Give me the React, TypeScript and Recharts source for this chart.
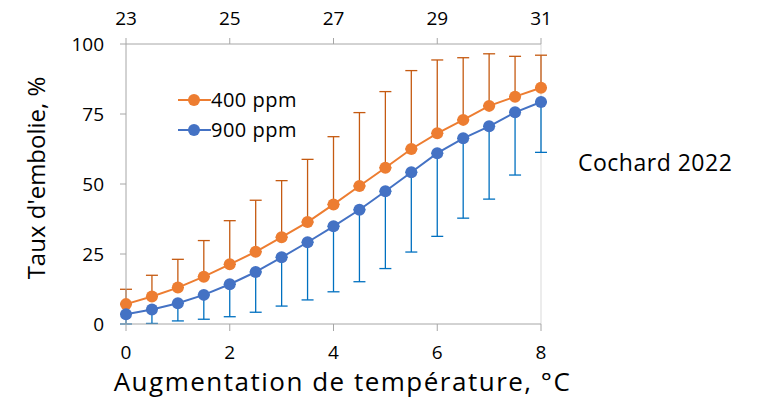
import React from 'react';
import {
  LineChart,
  Line,
  XAxis,
  YAxis,
  ErrorBar,
  ReferenceLine,
} from 'recharts';

const warming = [0, 0.5, 1, 1.5, 2, 2.5, 3, 3.5, 4, 4.5, 5, 5.5, 6, 6.5, 7, 7.5, 8];
const ppm400 = [7.1, 9.8, 13.0, 16.9, 21.3, 25.8, 31.0, 36.4, 42.7, 49.3, 55.8, 62.5, 68.1, 72.9, 77.9, 81.2, 84.4];
const ppm400Up = [5.3, 7.6, 10.1, 12.9, 15.6, 18.4, 20.2, 22.4, 24.2, 26.2, 27.2, 28.0, 26.2, 22.2, 18.6, 14.4, 11.6];
const ppm900 = [3.5, 5.2, 7.4, 10.4, 14.2, 18.6, 23.8, 29.2, 34.9, 40.8, 47.4, 54.2, 61.0, 66.3, 70.6, 75.6, 79.3];
const ppm900Down = [3.5, 5.0, 6.3, 8.7, 11.6, 14.4, 17.4, 20.6, 23.4, 25.7, 27.6, 28.5, 29.7, 28.5, 26.0, 22.4, 18.0];
const bottomTicks = [0, 2, 4, 6, 8];
const topTicks = [23, 25, 27, 29, 31];
const yTicks = [0, 25, 50, 75, 100];

const data = warming.map((x, i) => ({
  x,
  t: x + 23,
  a: ppm400[i],
  aErr: [0, ppm400Up[i]],
  b: ppm900[i],
  bErr: [ppm900Down[i], 0],
}));

const FONT = '"Open Sans", sans-serif';
const axisGray = '#a6a6a6';
const ORANGE = '#ed7d31';
const BLUE = '#4472c4';

const LegendBox = () => (
  <div
    style={{
      position: 'absolute',
      left: 178,
      top: 85,
      fontFamily: FONT,
      fontSize: 20,
      letterSpacing: 0.5,
      color: '#000',
      lineHeight: '30px',
    }}
  >
    {[
      { c: ORANGE, t: '400 ppm' },
      { c: BLUE, t: '900 ppm' },
    ].map((it) => (
      <div key={it.t} style={{ display: 'flex', alignItems: 'center' }}>
        <svg width={33} height={14}>
          <line x1={0} y1={7} x2={33} y2={7} stroke={it.c} strokeWidth={2} />
          <circle cx={16} cy={7} r={6} fill={it.c} />
        </svg>
        <span>{it.t}</span>
      </div>
    ))}
  </div>
);

export default function App() {
  return (
    <div style={{ position: 'absolute', left: 0, top: 0, width: 764, height: 400, background: '#fff' }}>
      <LineChart
        width={764}
        height={400}
        data={data}
        margin={{ top: 0, right: 223, bottom: 0, left: 0 }}
      >
        <XAxis
          xAxisId="bottom"
          dataKey="x"
          type="number"
          domain={[0, 8]}
          ticks={bottomTicks}
          height={76}
          stroke={axisGray}
          tickSize={7}
          tickMargin={15}
          tick={{ fill: '#000', fontSize: 19, fontFamily: FONT }}
          label={{
            value: 'Augmentation de température, °C',
            position: 'insideBottom',
            offset: 9,
            dx: 9,
            fill: '#000',
            fontSize: 26,
            letterSpacing: 1.5,
            fontFamily: FONT,
          }}
        />
        <XAxis
          xAxisId="top"
          dataKey="t"
          type="number"
          orientation="top"
          domain={[23, 31]}
          ticks={topTicks}
          height={44}
          stroke={axisGray}
          tickSize={6}
          tickMargin={13}
          tick={{ fill: '#000', fontSize: 19, fontFamily: FONT }}
        />
        <YAxis
          type="number"
          domain={[0, 100]}
          ticks={yTicks}
          width={126}
          stroke={axisGray}
          tickSize={6}
          tickMargin={16}
          tick={{ fill: '#000', fontSize: 19, fontFamily: FONT }}
          label={{
            value: "Taux d'embolie, %",
            angle: -90,
            position: 'insideLeft',
            offset: 36,
            dy: -6,
            style: { textAnchor: 'middle' },
            fill: '#000',
            fontSize: 24,
            fontFamily: FONT,
          }}
        />
        <ReferenceLine xAxisId="bottom" x={8} stroke="#d9d9d9" strokeWidth={1} />
        <Line
          xAxisId="bottom"
          dataKey="a"
          name="400 ppm"
          stroke={ORANGE}
          strokeWidth={2}
          dot={{ r: 6, fill: ORANGE, stroke: ORANGE, strokeWidth: 0 }}
          isAnimationActive={false}
        >
          <ErrorBar dataKey="aErr" direction="y" width={6} stroke="#c55a11" strokeWidth={1.3} isAnimationActive={false} />
        </Line>
        <Line
          xAxisId="bottom"
          dataKey="b"
          name="900 ppm"
          stroke={BLUE}
          strokeWidth={2}
          dot={{ r: 6, fill: BLUE, stroke: BLUE, strokeWidth: 0 }}
          isAnimationActive={false}
        >
          <ErrorBar dataKey="bErr" direction="y" width={6} stroke="#0070c0" strokeWidth={1.3} isAnimationActive={false} />
        </Line>
      </LineChart>
      <LegendBox />
      <div
        style={{
          position: 'absolute',
          left: 578,
          top: 146,
          fontFamily: FONT,
          fontSize: 23,
          letterSpacing: 0.5,
          color: '#000',
        }}
      >
        Cochard 2022
      </div>
    </div>
  );
}
